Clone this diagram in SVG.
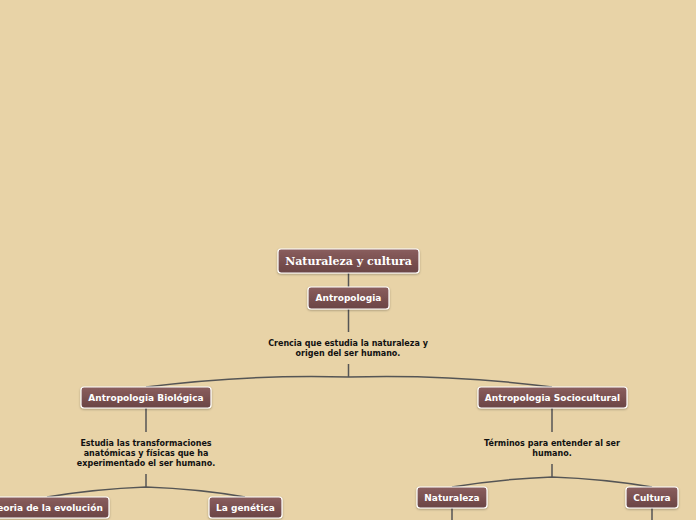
<svg xmlns="http://www.w3.org/2000/svg" width="696" height="520" viewBox="0 0 696 520">
<defs>
<linearGradient id="g" x1="0" y1="0" x2="0" y2="1">
<stop offset="0" stop-color="#8a5e5e"/>
<stop offset="1" stop-color="#6a4444"/>
</linearGradient>
<filter id="sh" x="-10%" y="-20%" width="120%" height="150%">
<feDropShadow dx="0" dy="1" stdDeviation="1" flood-color="#000" flood-opacity="0.3"/>
</filter>
</defs>
<style>
.n{fill:url(#g);stroke:#fff;stroke-width:1.2;filter:url(#sh)}
.t{font-family:"DejaVu Sans",Verdana,sans-serif;font-weight:bold;font-size:9px;fill:#fff;text-anchor:middle}
.r{font-family:"DejaVu Serif","Liberation Serif",serif;font-weight:bold;font-size:11px;fill:#fff;text-anchor:middle}
.l{font-family:"DejaVu Sans",Verdana,sans-serif;font-weight:bold;font-size:8px;fill:#111;text-anchor:middle}
.c{fill:none;stroke:#555;stroke-width:1.5}
</style>
<rect width="696" height="520" fill="#e8d3a7"/>
<g id="connectors">
<path class="c" d="M348.5 273V287M348.5 309V332M348.5 364V377"/>
<path class="c" d="M348.5 377Q250 374 146 387M348.5 377Q450 374 552 387"/>
<path class="c" d="M146 408V432M146 474V487"/>
<path class="c" d="M146 487Q95 489 47 497M146 487Q200 489 245 497"/>
<path class="c" d="M552 408V432M552 464V477"/>
<path class="c" d="M552 477Q500 479 452 487M552 477Q605 479 652 487"/>
<path class="c" d="M452 508V520M652 508V520"/>
</g>
<g id="root"><rect class="n" x="278" y="249" width="141" height="24" rx="3"/><text class="r" x="348.5" y="265">Naturaleza y cultura</text></g>
<g id="antropologia"><rect class="n" x="308" y="287" width="81" height="22" rx="3"/><text class="t" x="348.5" y="301">Antropologia</text></g>
<g id="def1"><text class="l" x="348" y="346">Crencia que estudia la naturaleza y</text><text class="l" x="348" y="356">origen del ser humano.</text></g>
<g id="biologica"><rect class="n" x="81" y="387" width="130" height="21" rx="3"/><text class="t" x="146" y="401">Antropologia Biológica</text></g>
<g id="sociocultural"><rect class="n" x="478" y="387" width="149" height="21" rx="3"/><text class="t" x="552.5" y="401">Antropologia Sociocultural</text></g>
<g id="def2"><text class="l" x="146" y="446">Estudia las transformaciones</text><text class="l" x="146" y="456">anatómicas y físicas que ha</text><text class="l" x="146" y="466">experimentado el ser humano.</text></g>
<g id="def3"><text class="l" x="552" y="446">Términos para entender al ser</text><text class="l" x="552" y="456">humano.</text></g>
<g id="evolucion"><rect class="n" x="-14" y="497" width="123" height="21" rx="3"/><text class="t" x="47.5" y="511">Teoria de la evolución</text></g>
<g id="genetica"><rect class="n" x="209" y="497" width="73" height="21" rx="3"/><text class="t" x="245.5" y="511">La genética</text></g>
<g id="naturaleza"><rect class="n" x="417" y="487" width="70" height="21" rx="3"/><text class="t" x="452" y="501">Naturaleza</text></g>
<g id="cultura"><rect class="n" x="626" y="487" width="52" height="21" rx="3"/><text class="t" x="652" y="501">Cultura</text></g>
</svg>
